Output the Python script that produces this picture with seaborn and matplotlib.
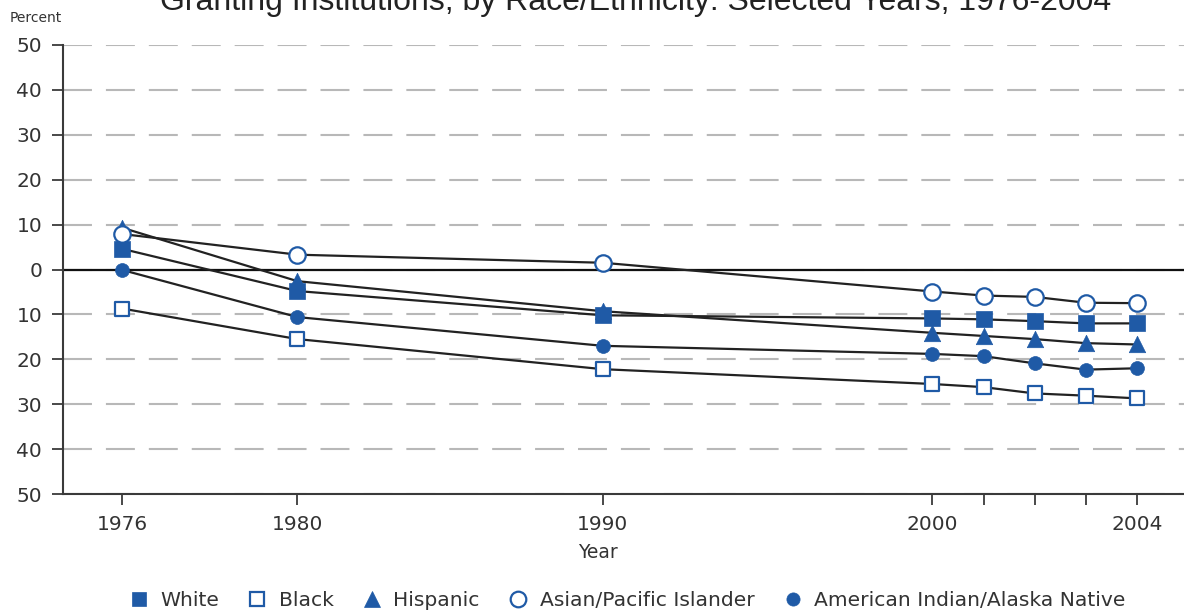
"""
plot.py

Line chart of percent differences by race/ethnicity, 1976-2004,
drawn with seaborn on a stretched (non-linear) year axis.
"""

import numpy as np
import pandas as pd
import matplotlib.pyplot as plt
from matplotlib.lines import Line2D
from matplotlib.ticker import FixedLocator, FuncFormatter
import seaborn as sns


# data
years = [1976, 1980, 1990, 2000, 2001, 2002, 2003, 2004]
white = [4.6, -4.8, -10.2, -10.9, -11.1, -11.5, -12.0, -12.0]
black = [-8.7, -15.5, -22.2, -25.5, -26.2, -27.6, -28.1, -28.7]
hispanic = [9.3, -2.6, -9.3, -14.1, -14.8, -15.5, -16.4, -16.7]
asian = [7.9, 3.3, 1.5, -4.9, -5.8, -6.1, -7.4, -7.5]
am_indian = [-0.1, -10.6, -17.0, -18.8, -19.3, -20.9, -22.3, -22.0]

major_years = [1976, 1980, 1990, 2000, 2004]
minor_years = [2001, 2002, 2003]
y_ticks = list(range(-50, 51, 10))

TITLE = "Granting Institutions, by Race/Ethnicity: Selected Years, 1976-2004"
BLUE = "#1F5AA6"
TEXT = "#333333"

# how the original spaces its years along the axis (knots for the scale)
KNOT_YEARS = np.array([1970, 1976, 1980, 1990, 2000, 2004, 2010])
KNOT_POS = np.array([-140.5, 122, 297, 602, 931, 1135, 1442.5])


def forward(x):
    return np.interp(x, KNOT_YEARS, KNOT_POS)


def inverse(p):
    return np.interp(p, KNOT_POS, KNOT_YEARS)


def main() -> None:
    sns.set_theme(style="white")
    plt.rcParams["font.family"] = ["DejaVu Sans"]

    df = pd.DataFrame({
        "Year": years,
        "White": white,
        "Black": black,
        "Hispanic": hispanic,
        "Asian/Pacific Islander": asian,
        "American Indian/Alaska Native": am_indian,
    })

    fig = plt.figure(figsize=(11.84, 6.14), dpi=100)
    ax = fig.add_axes([63 / 1184, 1 - 494 / 614, 1 - 63 / 1184, 449 / 614])
    ax.set_xscale("function", functions=(forward, inverse))

    # marker styles: (marker, size, filled)
    styles = {
        "White": ("s", 125, True),
        "Black": ("s", 105, False),
        "Hispanic": ("^", 140, True),
        "Asian/Pacific Islander": ("o", 140, False),
        "American Indian/Alaska Native": ("o", 100, True),
    }

    # connecting lines first
    for name in styles:
        sns.lineplot(data=df, x="Year", y=name, color="#222222",
                     linewidth=1.6, ax=ax, zorder=3)

    draw_order = ["Black", "Hispanic", "White",
                  "American Indian/Alaska Native", "Asian/Pacific Islander"]
    for z, name in enumerate(draw_order):
        marker, size, filled = styles[name]
        sns.scatterplot(data=df, x="Year", y=name, marker=marker, s=size,
                        color=BLUE if filled else "white",
                        edgecolor=BLUE, linewidth=1.6 if not filled else 0.5,
                        ax=ax, zorder=4 + z)

    ax.axhline(0, color="#111111", linewidth=1.6, zorder=2)

    ax.set_xlim(1974.65, 2004.92)
    ax.set_ylim(-50, 50)
    ax.xaxis.set_major_locator(FixedLocator(major_years))
    ax.xaxis.set_minor_locator(FixedLocator(minor_years))
    ax.xaxis.set_major_formatter(FuncFormatter(lambda v, p: f"{int(round(v))}"))
    ax.xaxis.set_minor_formatter(FuncFormatter(lambda v, p: ""))
    ax.set_yticks(y_ticks)
    ax.yaxis.set_major_formatter(FuncFormatter(lambda v, p: f"{abs(int(v))}"))

    ax.yaxis.grid(True, color="#b8b8b8", linewidth=1.5,
                  linestyle=(0, (13.9, 6.7)), zorder=1)
    ax.xaxis.grid(False)

    for side in ["top", "right"]:
        ax.spines[side].set_visible(False)
    for side in ["left", "bottom"]:
        ax.spines[side].set_color("#3a3a3a")
        ax.spines[side].set_linewidth(1.5)

    ax.tick_params(axis="both", which="both", direction="out", length=8,
                   width=1.3, color="#3a3a3a", labelsize=14.5, labelcolor=TEXT)
    ax.tick_params(axis="x", which="both", bottom=True, pad=7)
    ax.tick_params(axis="y", left=True, pad=7)
    ax.set_xlabel("")
    ax.set_ylabel("")

    fig.text(598 / 1184, 1 - 553 / 614, "Year", ha="center", va="center",
             fontsize=13.5, color=TEXT)
    fig.text(10 / 1184, 1 - 18 / 614, "Percent", ha="left", va="center",
             fontsize=10, color=TEXT)
    # the title sits partly above the top edge, as in the original
    fig.text(636 / 1184, 1 - 10 / 614, TITLE, ha="center", va="baseline",
             fontsize=23, color="#222222", family=["Liberation Sans"])

    handles = []
    for name in ["White", "Black", "Hispanic", "Asian/Pacific Islander",
                 "American Indian/Alaska Native"]:
        marker, size, filled = styles[name]
        handles.append(Line2D([], [], linestyle="none", marker=marker,
                              markersize=np.sqrt(size) * 0.95,
                              markerfacecolor=BLUE if filled else "white",
                              markeredgecolor=BLUE,
                              markeredgewidth=1.6 if not filled else 0.5,
                              label=name))
    fig.legend(handles=handles, loc="center", ncol=5,
               bbox_to_anchor=(627 / 1184, 1 - 601 / 614), frameon=False,
               fontsize=14.6, handletextpad=0.55, columnspacing=1.4,
               handlelength=1.0, labelcolor=TEXT)

    fig.savefig("out.png", dpi=100)
    plt.close(fig)


if __name__ == "__main__":
    main()
